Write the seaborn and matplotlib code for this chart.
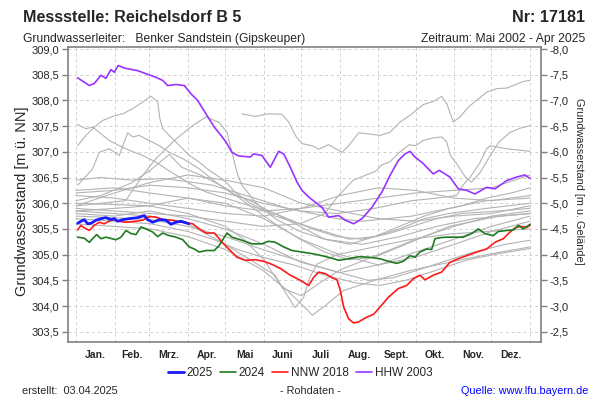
import numpy as np
import pandas as pd
import matplotlib
matplotlib.use("Agg")
import matplotlib.pyplot as plt
from matplotlib.ticker import FixedLocator, FuncFormatter, NullFormatter
from matplotlib.lines import Line2D
import seaborn as sns

# ---------------- data ----------------
month_starts = [0, 31, 59, 90, 120, 151, 181, 212, 243, 273, 304, 334, 365]
month_labels = ["Jan.", "Feb.", "Mrz.", "Apr.", "Mai", "Juni", "Juli", "Aug.",
                "Sept.", "Okt.", "Nov.", "Dez."]
y_ticks_left = [303.5, 304.0, 304.5, 305.0, 305.5, 306.0, 306.5, 307.0, 307.5, 308.0, 308.5, 309.0]
y_ticks_right = [-8.0, -7.5, -7.0, -6.5, -6.0, -5.5, -5.0, -4.5, -4.0, -3.5, -3.0, -2.5]

# 2025 (blue)
d2025 = [1.4, 4, 6.7, 9.4, 12.1, 16.1, 20.1, 24.1, 28.1, 30.8, 33.5, 37.5, 42.8, 49.6,
         54.9, 57.6, 61.7, 67, 72.3, 76.4, 80.4, 84.4, 88.4, 90.6]
v2025 = [305.61, 305.65, 305.68, 305.60, 305.61, 305.67, 305.70, 305.72, 305.68, 305.70,
         305.65, 305.68, 305.70, 305.72, 305.76, 305.68, 305.63, 305.68, 305.67, 305.59,
         305.63, 305.65, 305.62, 305.60]

# 2024 (green)
d2024 = [1.4, 6.7, 10.7, 13.4, 16.6, 20.1, 24.1, 32.2, 36.2, 40.2, 44.2, 48.2, 52.3, 56.3,
         61.7, 65.7, 69.7, 75, 80.4, 85.8, 91.1, 95.1, 99.1, 104.5, 111.2, 115.2, 119,
         121.4, 125.4, 133.4, 141.5, 149.5, 154.8, 160.2, 166.9, 173.6, 181.7, 189.7,
         197.7, 205.8, 211.2, 219.2, 227.2, 235.3, 244.4, 251.1, 257.8, 263.1, 268.5,
         272.5, 276.5, 281.9, 285.9, 288.6, 292.6, 298, 311.3, 318, 323.4, 328.7, 335.4,
         339.5, 346.2, 351.6, 355.6, 359.6, 365]
v2024 = [305.34, 305.32, 305.24, 305.31, 305.39, 305.31, 305.34, 305.29, 305.34, 305.47,
         305.41, 305.39, 305.54, 305.50, 305.44, 305.35, 305.42, 305.37, 305.34, 305.29,
         305.15, 305.11, 305.05, 305.08, 305.08, 305.18, 305.33, 305.42, 305.34, 305.28,
         305.21, 305.21, 305.26, 305.24, 305.15, 305.08, 305.05, 305.02, 304.98, 304.93,
         304.89, 304.92, 304.96, 304.95, 304.92, 304.87, 304.83, 304.87, 304.98, 304.95,
         305.05, 305.11, 305.10, 305.31, 305.33, 305.34, 305.34, 305.41, 305.50, 305.41,
         305.37, 305.45, 305.47, 305.48, 305.57, 305.50, 305.59]

# NNW 2018 (red)
d2018 = [1.4, 4, 6.7, 10.7, 14.7, 18.7, 22.7, 26.8, 29.5, 34.8, 40.2, 48.2, 53.6, 58.9,
         64.3, 69.7, 77.7, 85.8, 93.8, 99.1, 104.5, 111.2, 115.2, 117.4, 122.8, 129.4,
         136.1, 144.1, 150.9, 157.6, 164.3, 172.3, 180.3, 187.1, 191.1, 195.1, 200.4,
         205.8, 209.8, 212.5, 215.2, 219.2, 223.2, 227.2, 232.6, 239.3, 244.4, 251.1,
         259.1, 265.8, 271.2, 276.5, 280.5, 287.2, 293.9, 300.6, 307.3, 314.1, 322.1,
         330.1, 336.8, 343.5, 348.9, 352.9, 356.9, 362.3, 365]
v2018 = [305.48, 305.57, 305.52, 305.47, 305.57, 305.63, 305.60, 305.65, 305.68, 305.65,
         305.63, 305.65, 305.67, 305.74, 305.73, 305.68, 305.67, 305.63, 305.60, 305.50,
         305.42, 305.42, 305.31, 305.24, 305.11, 304.95, 304.89, 304.90, 304.87, 304.81,
         304.73, 304.60, 304.50, 304.40, 304.56, 304.66, 304.63, 304.55, 304.51, 304.30,
         303.98, 303.75, 303.67, 303.69, 303.77, 303.84, 303.98, 304.17, 304.34, 304.40,
         304.53, 304.60, 304.51, 304.60, 304.66, 304.85, 304.92, 304.98, 305.05, 305.11,
         305.24, 305.31, 305.44, 305.52, 305.55, 305.53, 305.57]

# HHW 2003 (purple)
d2003 = [1.4, 10.7, 14.7, 20.1, 24.1, 28.1, 30.8, 34, 38.8, 49.6, 56.3, 64.3, 69.7, 73.7,
         80.4, 87.1, 92.4, 97.8, 104.5, 111.2, 116.6, 120.6, 125.4, 130.8, 140.1, 142.8,
         149.5, 156.2, 162.9, 167, 172.3, 177.7, 181.7, 187.1, 197.7, 203.1, 211.2, 216.5,
         223.2, 229.9, 237.9, 246, 252.4, 259.1, 264.5, 268.5, 272.5, 279.2, 287.2, 292,
         300.6, 307.3, 314.1, 320.7, 330.1, 336.8, 346.2, 354.3, 360.9, 365]
v2003 = [308.44, 308.29, 308.33, 308.49, 308.43, 308.60, 308.55, 308.68, 308.63, 308.58,
         308.52, 308.45, 308.39, 308.29, 308.31, 308.29, 308.13, 308.00, 307.74, 307.48,
         307.32, 307.19, 306.99, 306.92, 306.90, 306.96, 306.93, 306.70, 307.01, 306.96,
         306.70, 306.41, 306.25, 306.12, 305.92, 305.73, 305.76, 305.67, 305.60, 305.70,
         305.92, 306.22, 306.54, 306.83, 306.96, 307.01, 306.90, 306.77, 306.57, 306.64,
         306.51, 306.28, 306.25, 306.18, 306.31, 306.28, 306.44, 306.51, 306.55, 306.48]

# other years (grey)
d_g2002 = [133.4, 144.1, 154.9, 165.6, 171, 176.3, 181.7, 189.7, 195.1, 203.1, 213.8, 219.2,
           227.3, 235.3, 244.4, 252.4, 260.5, 268.5, 279.2, 287.2, 294, 298, 303.3, 308.7,
           315.4, 323.4, 330.1, 338.2, 346.2, 351.5, 359.6, 365]
v_g2002 = [307.74, 307.69, 307.74, 307.73, 307.58, 307.32, 307.16, 307.12, 307.05, 307.14,
           306.99, 307.12, 307.37, 307.35, 307.32, 307.38, 307.58, 307.71, 307.92, 307.98,
           308.08, 307.94, 307.58, 307.68, 307.87, 308.03, 308.16, 308.23, 308.24, 308.29,
           308.37, 308.39]
d_ga = [1.4, 8, 14.7, 21.5, 29.6, 37.6, 45.6, 53.6, 60.3, 63, 65.7, 67.5, 69.7, 73.7, 80.4,
        85.8, 91.1, 99.1, 107.1, 115.2, 120.6, 127.8, 140, 160, 180, 200, 220, 240, 260, 280,
        300, 330, 365]
v_ga = [307.12, 307.32, 307.48, 307.61, 307.69, 307.74, 307.84, 307.97, 308.08, 308.03,
        307.97, 307.64, 307.45, 307.35, 307.19, 307.06, 306.93, 306.80, 306.64, 306.51,
        306.41, 306.22, 306.0, 305.75, 305.6, 305.45, 305.3, 305.35, 305.5, 305.7, 305.8,
        305.9, 306.0]
d_gb = [1.4, 8, 13.4, 18.7, 26.8, 34.8, 42.8, 53.6, 64.3, 72.3, 83, 93.8, 104.5, 120, 140,
        160, 180, 200, 220, 240, 260, 280, 300, 330, 365]
v_gb = [307.53, 307.45, 307.48, 307.38, 307.22, 307.12, 307.03, 306.93, 306.80, 306.67,
        306.51, 306.35, 306.22, 306.1, 305.95, 305.8, 305.55, 305.3, 305.2, 305.35, 305.55,
        305.75, 305.9, 306.05, 306.1]
d_gc = [1.4, 13.4, 18.7, 26.8, 34.8, 41.6, 45.6, 50.9, 58.9, 67, 75, 85.8, 99.1, 112.5, 125,
        140, 155, 170, 190, 210, 230, 250, 270, 290, 310, 340, 365]
v_gc = [306.35, 306.67, 306.99, 307.06, 306.93, 307.37, 307.29, 307.32, 307.22, 307.12,
        306.99, 306.87, 306.67, 306.41, 306.2, 306.05, 305.85, 305.7, 305.5, 305.35, 305.3,
        305.4, 305.55, 305.7, 305.8, 305.85, 305.9]
d_gd = [1.4, 20, 40, 53.6, 64.3, 80.4, 93.8, 104.5, 115.2, 121.4, 125.4, 129.4, 133.4, 145,
        160, 180, 200, 230, 260, 290, 320, 365]
v_gd = [305.95, 306.0, 306.05, 306.54, 306.87, 307.25, 307.51, 307.68, 307.57, 307.38,
        306.99, 306.60, 306.35, 306.0, 305.7, 305.45, 305.3, 305.2, 305.35, 305.55, 305.7,
        305.8]
d_ge = [0, 30, 60, 90, 120, 140, 160, 170, 176, 183, 188, 194, 210, 240, 270, 300, 330, 365]
v_ge = [305.85, 305.8, 305.75, 305.6, 305.2, 304.9, 304.6, 304.2, 303.97, 304.17, 304.56,
        304.82, 305.0, 305.15, 305.3, 305.4, 305.45, 305.5]
d_gf = [0, 30, 60, 90, 120, 150, 170, 185, 190, 200, 215, 240, 270, 300, 330, 365]
v_gf = [305.6, 305.55, 305.5, 305.35, 305.1, 304.7, 304.3, 303.95, 303.82, 304.0, 304.3,
        304.5, 304.7, 304.85, 305.0, 305.15]
d_gg = [0, 30, 60, 90, 120, 150, 180, 200, 211, 223, 240.6, 246, 252, 260, 268, 273, 279,
        287, 294, 298, 301, 306, 313, 318, 325, 333, 340, 349, 357, 365]
v_gg = [305.9, 305.85, 305.8, 305.75, 305.65, 305.55, 305.6, 305.8, 306.15, 306.45, 306.62,
        306.75, 306.80, 306.99, 307.14, 307.12, 307.22, 307.27, 307.29, 307.19, 306.93,
        306.77, 306.51, 306.41, 306.60, 306.93, 307.19, 307.38, 307.46, 307.51]
d_gh = [0, 30, 60, 90, 120, 150, 180, 210, 240, 270, 290, 306, 311, 317, 325, 330, 333, 346, 365]
v_gh = [306.2, 306.25, 306.35, 306.3, 306.2, 306.0, 305.85, 305.8, 305.9, 306.05, 306.1,
        306.15, 306.35, 306.51, 306.80, 307.06, 307.12, 307.06, 307.01]
d_gi = [0, 20, 45, 70, 90, 110, 130, 150, 170, 190, 210, 230, 250, 270, 290, 310, 330, 350, 365]
v_gi = [306.45, 306.5, 306.45, 306.48, 306.42, 306.35, 306.2, 306.05, 305.9, 305.8, 305.7,
        305.65, 305.7, 305.75, 305.85, 305.95, 306.1, 306.2, 306.3]
d_gj = [0, 20, 45, 60, 75, 85, 100, 120, 140, 160, 180, 200, 220, 240, 260, 280, 300, 320, 340, 365]
v_gj = [306.05, 306.15, 306.4, 306.65, 306.95, 306.7, 306.55, 306.3, 305.95, 305.6, 305.3,
        305.05, 304.9, 304.95, 305.15, 305.35, 305.55, 305.65, 305.75, 305.8]
d_gk = [0, 30, 60, 90, 120, 150, 170, 190, 212, 235, 255, 275, 300, 320, 345, 365]
v_gk = [305.75, 305.72, 305.68, 305.55, 305.35, 305.1, 304.95, 304.8, 304.65, 304.5, 304.55,
        304.7, 304.9, 305.05, 305.2, 305.28]
d_gl = [0, 30, 60, 90, 110, 130, 150, 175, 200, 225, 244, 265, 290, 315, 340, 365]
v_gl = [305.7, 305.65, 305.6, 305.45, 305.3, 305.1, 304.95, 304.8, 304.6, 304.45, 304.4,
        304.5, 304.7, 304.9, 305.02, 305.12]
d_gm = [0, 31, 59, 90, 120, 151, 181, 212, 243, 273, 304, 334, 365]
v_gm = [306.15, 306.1, 306.0, 305.9, 305.8, 305.75, 305.9, 306.15, 306.3, 306.25, 306.1,
        306.05, 306.15]
v_gn = [305.95, 306.2, 306.4, 306.55, 306.45, 306.3, 306.0, 305.85, 305.7, 305.65, 305.75,
        305.8, 305.95]
v_go = [305.85, 305.9, 305.95, 306.1, 306.0, 305.7, 305.3, 305.0, 304.8, 304.95, 305.2,
        305.45, 305.65]
v_gp = [305.8, 305.75, 305.85, 305.7, 305.5, 305.2, 304.85, 304.65, 304.8, 305.05, 305.3,
        305.55, 305.75]
v_gr = [306.25, 306.3, 306.2, 306.1, 305.95, 305.85, 305.9, 306.0, 306.1, 306.2, 306.25,
        306.3, 306.55]
d_gq = [0, 59, 90, 120, 135, 151, 166, 181, 196, 212, 243, 273, 304, 334, 365]
v_gq = [306.0, 305.95, 305.8, 305.55, 305.3, 304.9, 304.35, 304.2, 304.45, 304.7, 305.0,
        305.3, 305.55, 305.75, 305.85]

grey_series = [
    (d_g2002, v_g2002), (d_ga, v_ga), (d_gb, v_gb), (d_gc, v_gc), (d_gd, v_gd),
    (d_ge, v_ge), (d_gf, v_gf), (d_gg, v_gg), (d_gh, v_gh), (d_gi, v_gi), (d_gj, v_gj),
    (d_gk, v_gk), (d_gl, v_gl), (d_gm, v_gm), (d_gm, v_gn), (d_gm, v_go), (d_gm, v_gp),
    (d_gm, v_gr), (d_gq, v_gq),
]

# ---------------- style ----------------
sns.set_style("white")
plt.rcParams["font.family"] = ["Liberation Sans", "DejaVu Sans"]

fig = plt.figure(figsize=(6, 4), dpi=100)
ax = fig.add_axes([68 / 600, 1 - 342 / 400, (541 - 68) / 600, (342 - 47) / 400])

grey_frames = []
for i, (dd, vv) in enumerate(grey_series):
    grey_frames.append(pd.DataFrame({"day": dd, "value": vv, "series": i}))
grey_df = pd.concat(grey_frames, ignore_index=True)
sns.lineplot(data=grey_df, x="day", y="value", units="series", estimator=None,
             color="#b3b3b3", lw=0.8, ax=ax, sort=False, legend=False)

colored = [
    (d2003, v2003, "#9933ff", 1.2, "HHW 2003"),
    (d2018, v2018, "#ff1a1a", 1.2, "NNW 2018"),
    (d2024, v2024, "#1f7a1f", 1.2, "2024"),
    (d2025, v2025, "#1a1aff", 2.0, "2025"),
]
for dd, vv, col, lw, lab in colored:
    df = pd.DataFrame({"day": dd, "value": vv})
    sns.lineplot(data=df, x="day", y="value", color=col, lw=lw, ax=ax, sort=False,
                 legend=False)

ax.set_xlim(-6.4, 373.8)
ax.set_ylim(303.3, 309.04)

# ticks & grid
ax.xaxis.set_major_locator(FixedLocator(month_starts))
ax.xaxis.set_major_formatter(NullFormatter())
centers = [(month_starts[i] + month_starts[i + 1]) / 2 for i in range(12)]
ax.xaxis.set_minor_locator(FixedLocator(centers))
ax.set_xticklabels(month_labels, minor=True)
ax.tick_params(axis="x", which="minor", length=0, labelsize=7.5, pad=6)
for t in ax.get_xticklabels(minor=True):
    t.set_fontweight("bold")
ax.tick_params(axis="x", which="major", length=5, color="#808080", width=1)

ax.yaxis.set_major_locator(FixedLocator(y_ticks_left))
ax.yaxis.set_major_formatter(FuncFormatter(lambda v, p: f"{v:.1f}".replace(".", ",")))
ax.tick_params(axis="y", which="major", length=4, color="#808080", width=1,
               labelsize=8, pad=2)
ax.grid(True, which="major", color="#d0d0d0", lw=0.7, ls=(0, (3, 3)))

for s in ax.spines.values():
    s.set_color("#808080")
    s.set_linewidth(1.2)

ax.set_xlabel("")
ax.set_ylabel("")

ax2 = ax.twinx()
ax2.set_ylim(301 - 303.3, 301 - 309.04)
ax2.yaxis.set_major_locator(FixedLocator(y_ticks_right))
ax2.yaxis.set_major_formatter(FuncFormatter(lambda v, p: f"{v:.1f}".replace(".", ",")))
ax2.tick_params(axis="y", length=4, color="#808080", width=1, labelsize=8, pad=2)
ax2.set_ylabel("")
for s in ax2.spines.values():
    s.set_visible(False)

# axis titles
fig.text(22 / 600, 1 - 201 / 400, "Grundwasserstand [m ü. NN]", fontsize=10.5,
         rotation=90, ha="center", va="center")
fig.text(579 / 600, 1 - 181 / 400, "Grundwasserstand [m u. Gelände]", fontsize=7.8,
         rotation=-90, ha="center", va="center")

# titles
fig.text(23 / 600, 1 - 22 / 400, "Messstelle: Reichelsdorf B 5", fontsize=11.6,
         fontweight="bold", ha="left", va="baseline")
fig.text(585 / 600, 1 - 22 / 400, "Nr: 17181", fontsize=11.6, fontweight="bold",
         ha="right", va="baseline")
fig.text(23 / 600, 1 - 42 / 400, "Grundwasserleiter:   Benker Sandstein (Gipskeuper)",
         fontsize=8.7, ha="left", va="baseline")
fig.text(585 / 600, 1 - 42 / 400, "Zeitraum: Mai 2002 - Apr 2025", fontsize=8.7,
         ha="right", va="baseline")

# legend
handles = [Line2D([], [], color="#1a1aff", lw=2.0),
           Line2D([], [], color="#1f7a1f", lw=1.2),
           Line2D([], [], color="#ff1a1a", lw=1.2),
           Line2D([], [], color="#9933ff", lw=1.2)]
fig.legend(handles, ["2025", "2024", "NNW 2018", "HHW 2003"], loc="center",
           bbox_to_anchor=(300 / 600, 1 - 373 / 400), ncol=4, frameon=False,
           fontsize=8.5, handlelength=1.35, columnspacing=0.6, handletextpad=0.25)

# footer
fig.text(22 / 600, 1 - 394 / 400, "erstellt:  03.04.2025", fontsize=7.8, ha="left",
         va="baseline")
fig.text(310 / 600, 1 - 394 / 400, "- Rohdaten -", fontsize=7.8, ha="center",
         va="baseline")
fig.text(588 / 600, 1 - 394 / 400, "Quelle: www.lfu.bayern.de", fontsize=7.8,
         ha="right", va="baseline", color="#0000ff")

fig.savefig("out.png", dpi=100)
